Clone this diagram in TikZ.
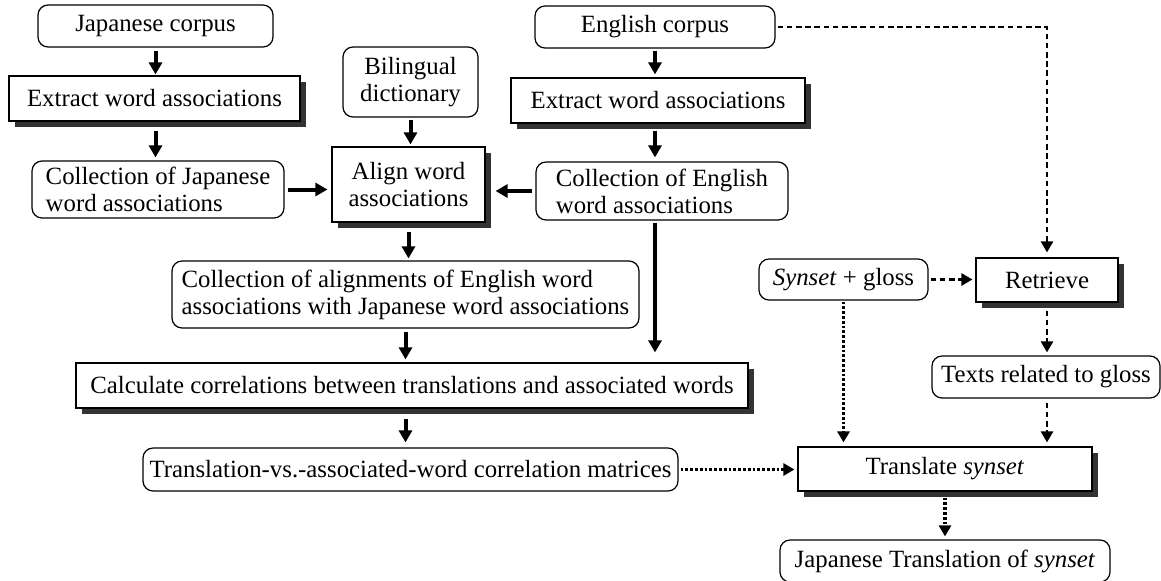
\documentclass[tikz,border=0pt]{standalone}
\usepackage{fontspec}
\setmainfont{Liberation Serif}
\usetikzlibrary{arrows.meta, shadows}

\begin{document}
\begin{tikzpicture}[x=0.5pt, y=-0.5pt,
    every node/.style={font=\fontsize{12.4}{13.5}\selectfont, inner sep=0pt},
    rbox/.style={draw, line width=0.6pt, rounded corners=5pt, fill=white},
    sbox/.style={draw, line width=0.6pt, fill=white,
        drop shadow={shadow xshift=3pt, shadow yshift=-3pt, fill=black!80, opacity=1}},
    arr/.style={line width=2pt, -{Triangle[length=6pt, width=6.5pt]}},
    dasharr/.style={line width=1.3pt, dash pattern=on 2.8pt off 1.8pt, -{Triangle[length=5.5pt, width=6pt]}},
    dotarr/.style={line width=1.7pt, dash pattern=on 1.4pt off 1pt, -{Triangle[length=5.5pt, width=6pt]}}]
    \useasboundingbox (0,0) rectangle (1161,580);

    % Japanese side
    \node[rbox, minimum width=117.5pt, minimum height=21pt] (jcorp) at (155.5,26) {Japanese corpus};
    \node[sbox, minimum width=145.5pt, minimum height=22.5pt] (jext) at (154.5,98.5) {Extract word associations};
    \node[rbox, minimum width=126pt, minimum height=28.5pt, align=left] (jcoll) at (158,189.5)
        {Collection of Japanese\\word associations};

    % Dictionary and alignment
    \node[rbox, minimum width=67.5pt, minimum height=35pt, align=center] (bdict) at (410.5,82) {Bilingual\\dictionary};
    \node[sbox, minimum width=76.5pt, minimum height=37.5pt, align=center] (align) at (408.5,184.5) {Align word\\associations};

    % English side
    \node[rbox, minimum width=120pt, minimum height=21pt] (ecorp) at (655,27) {English corpus};
    \node[sbox, minimum width=147pt, minimum height=22.5pt] (eext) at (658,100.5) {Extract word associations};
    \node[rbox, minimum width=126pt, minimum height=29pt, align=left] (ecoll) at (662,191)
        {Collection of English\\word associations};

    % Correlations
    \node[rbox, minimum width=233.5pt, minimum height=33.5pt, align=left] (calign) at (405.5,294.5)
        {Collection of alignments of English word\\associations with Japanese word associations};
    \node[sbox, minimum width=336pt, minimum height=22.5pt] (calc) at (412,385.5)
        {Calculate correlations between translations and associated words};
    \node[rbox, minimum width=267.5pt, minimum height=21.5pt] (matrices) at (410.5,469.5)
        {Translation-vs.-associated-word correlation matrices};

    % Synset translation
    \node[rbox, minimum width=84.5pt, minimum height=20.5pt] (synset) at (843.5,279.5) {\textit{Synset} + gloss};
    \node[sbox, minimum width=71pt, minimum height=22pt] (retrieve) at (1047,280) {Retrieve};
    \node[rbox, minimum width=114pt, minimum height=21pt] (texts) at (1046,377) {Texts related to gloss};
    \node[sbox, minimum width=147pt, minimum height=22pt] (translate) at (945,469) {Translate \textit{synset}};
    \node[rbox, minimum width=165pt, minimum height=21pt] (jtrans) at (945,561) {Japanese Translation of \textit{synset}};

    % Solid arrows
    \draw[arr, shorten <=1.5pt, shorten >=0.5pt] (jcorp.south) -- (jcorp.south |- jext.north);
    \draw[arr, shorten <=4.5pt, shorten >=1.5pt] (jcorp.south |- jext.south) -- (jcorp.south |- jcoll.north);
    \draw[arr, shorten <=1.5pt, shorten >=2pt] (jcoll.east) -- (jcoll.east -| align.west);
    \draw[arr, shorten <=1pt, shorten >=1pt] (bdict.south) -- (bdict.south |- align.north);
    \draw[arr, shorten <=1.5pt, shorten >=5pt] (ecoll.west) -- (ecoll.west -| align.east);
    \draw[arr, shorten <=1pt, shorten >=1.5pt] (ecorp.south) -- (ecorp.south |- eext.north);
    \draw[arr, shorten <=3.5pt, shorten >=2pt] (ecorp.south |- eext.south) -- (ecorp.south |- ecoll.north);
    \draw[arr, shorten <=4.5pt, shorten >=1pt] (align.south) -- (align.south |- calign.north);
    \draw[arr, shorten <=1.5pt, shorten >=1.5pt] (calign.south) -- (calign.south |- calc.north);
    \draw[arr, shorten <=5pt, shorten >=2.5pt] (calign.south |- calc.south) -- (calign.south |- matrices.north);
    \draw[arr, shorten <=1pt, shorten >=5pt] (ecorp.south |- ecoll.south) -- (ecorp.south |- calc.north);

    % Dashed arrows
    \draw[dasharr, shorten <=1pt, shorten >=2.5pt] (ecorp.east) -| (retrieve.north);
    \draw[dasharr, shorten <=1pt, shorten >=1.5pt] (synset.east) -- (synset.east -| retrieve.west);
    \draw[dasharr, shorten <=4pt, shorten >=1.5pt] (retrieve.south) -- (retrieve.south |- texts.north);
    \draw[dasharr, shorten <=2pt, shorten >=2pt] (retrieve.south |- texts.south) -- (retrieve.south |- translate.north);

    % Dotted arrows
    \draw[dotarr, shorten <=0.5pt, shorten >=2pt] (synset.south) -- (synset.south |- translate.north);
    \draw[dotarr, shorten <=1pt, shorten >=1.5pt] (matrices.east) -- (matrices.east -| translate.west);
    \draw[dotarr, shorten <=3pt, shorten >=1.5pt] (translate.south) -- (jtrans.north);
\end{tikzpicture}
\end{document}
